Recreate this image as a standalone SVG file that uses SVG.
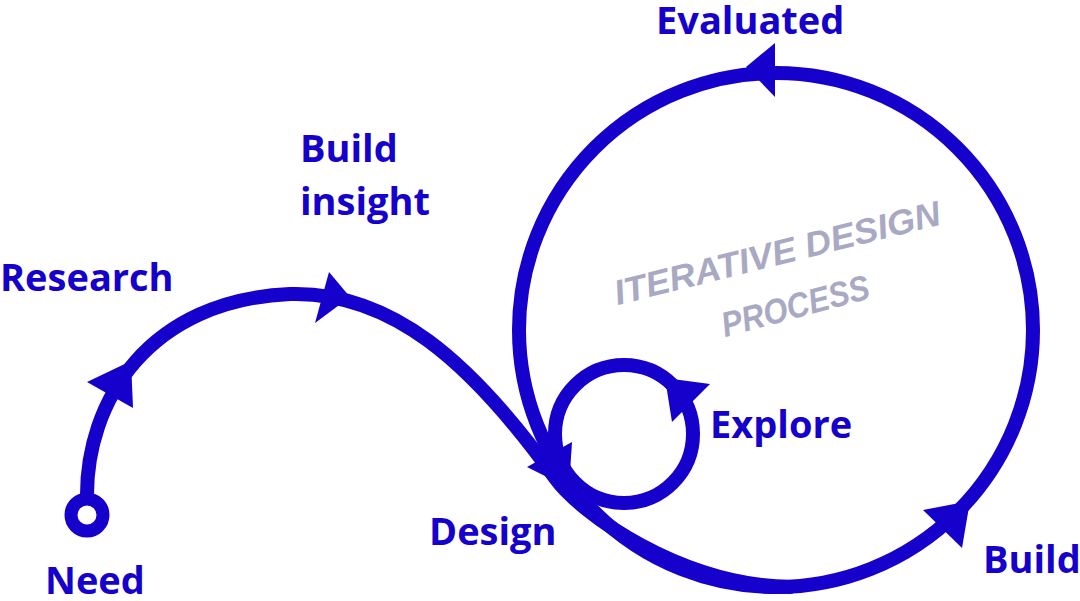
<svg xmlns="http://www.w3.org/2000/svg" width="1080" height="601" viewBox="0 0 1080 601">
<style>
.line{fill:none;stroke:#1500cc;stroke-width:14;stroke-linecap:round;stroke-linejoin:round}
.arrow{fill:#1500cc;stroke:none}
.lbl{font-family:"Open Sans","Noto Sans","Liberation Sans",sans-serif;font-weight:700;font-size:38px;fill:#1500cc}
.hand{font-family:"Liberation Sans","DejaVu Sans",sans-serif;font-size:35px;font-weight:700;fill:#a9a9c3;font-style:italic}
</style>
<rect width="1080" height="601" fill="#ffffff"/>
<g id="connectors">
  <path class="line" d="M87,500 C85,400 150,300 290,294 C390,291 470,360 555,478 C580,513 680,585 790,587"/>
  <circle class="line" cx="776" cy="330" r="257"/>
  <circle class="line" cx="624" cy="434" r="69"/>
  <polygon class="arrow" points="87,382 131,361 133,408"/>
  <polygon class="arrow" points="329,272 350,297 315,323"/>
  <polygon class="arrow" points="527,467 572,442 569,488"/>
  <polygon class="arrow" points="665,378 710,384 672,422"/>
  <polygon class="arrow" points="746,67 775,43 775,97"/>
  <polygon class="arrow" points="923,510 970,501 962,548"/>
</g>
<g id="node-need">
  <circle cx="87" cy="515" r="16" fill="#ffffff" stroke="#1500cc" stroke-width="13"/>
  <text class="lbl" x="45" y="594">Need</text>
</g>
<g id="node-research"><text class="lbl" x="0" y="291">Research</text></g>
<g id="node-build-insight">
  <text class="lbl" x="300" y="162">Build</text>
  <text class="lbl" x="300" y="215">insight</text>
</g>
<g id="node-design"><text class="lbl" x="429" y="545">Design</text></g>
<g id="node-explore"><text class="lbl" x="710" y="438">Explore</text></g>
<g id="node-evaluated"><text class="lbl" x="656" y="34">Evaluated</text></g>
<g id="node-build"><text class="lbl" x="983" y="573">Build</text></g>
<g id="title">
  <text class="hand" text-anchor="middle" textLength="335" lengthAdjust="spacingAndGlyphs" transform="rotate(-14 777 252)" x="777" y="265">ITERATIVE DESIGN</text>
  <text class="hand" text-anchor="middle" textLength="152" lengthAdjust="spacingAndGlyphs" transform="rotate(-15 795 305)" x="795" y="318" font-size="33">PROCESS</text>
</g>
</svg>
